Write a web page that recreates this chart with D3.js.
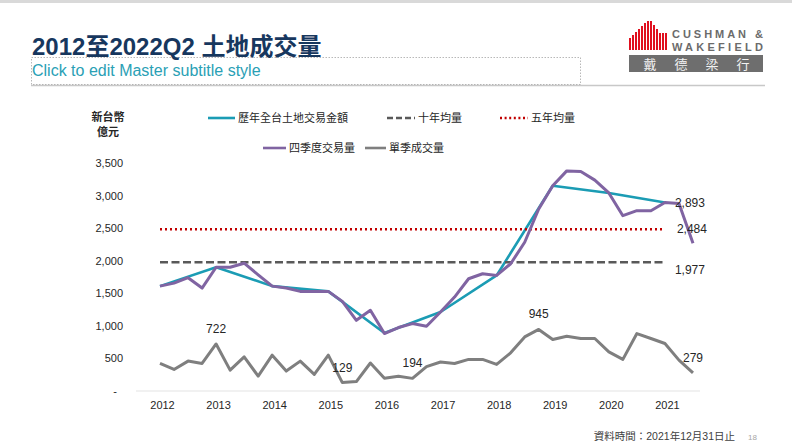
<!DOCTYPE html>
<html><head><meta charset="utf-8">
<script src="https://cdn.jsdelivr.net/npm/d3@7"></script>
<style>
body{margin:0;background:#fff;}
svg{display:block;font-family:"Liberation Sans",Arial,"Noto Sans CJK TC",sans-serif;}
</style></head><body>
<svg id="c" width="792" height="446"></svg>
<script>
// ---- data ----
const quarters = ["2012Q4","2013Q1","2013Q2","2013Q3","2013Q4","2014Q1","2014Q2","2014Q3","2014Q4",
 "2015Q1","2015Q2","2015Q3","2015Q4","2016Q1","2016Q2","2016Q3","2016Q4","2017Q1","2017Q2","2017Q3","2017Q4",
 "2018Q1","2018Q2","2018Q3","2018Q4","2019Q1","2019Q2","2019Q3","2019Q4","2020Q1","2020Q2","2020Q3","2020Q4",
 "2021Q1","2021Q2","2021Q3","2021Q4","2022Q1","2022Q2"];
const quarterly = [423,331,459,423,722,321,525,229,550,306,459,255,550,129,145,430,195,225,194,375,445,
 423,485,485,408,586,830,945,790,841,806,806,601,485,882,806,729,474,279];
const rolling4 = [1610,1656,1739,1580,1900,1900,1962,1784,1610,1580,1529,1529,1529,1376,1085,1239,882,974,1035,994,1213,
 1442,1723,1800,1774,1953,2283,2794,3150,3379,3369,3237,3040,2691,2768,2768,2893,2880,2268];
const years = ["2012","2013","2014","2015","2016","2017","2018","2019","2020","2021"];
const yearQuarters = ["2012Q4","2013Q4","2014Q4","2015Q4","2016Q4","2017Q4","2018Q4","2019Q4","2020Q4","2021Q4"];
const annual = [1610,1900,1610,1529,890,1213,1774,3150,3040,2893];
const tenYearAvg = 1977;
const fiveYearAvg = 2484;
const avgSpan = ["2012Q4","2021Q4"];
const yTicks = [0,500,1000,1500,2000,2500,3000,3500];
const labeledQuarters = ["2013Q4","2016Q1","2017Q2","2019Q3","2022Q2"];

// ---- chart ----
const svg = d3.select("#c");
const x = d3.scalePoint().domain(quarters).range([160,693]);
const y = d3.scaleLinear().domain([0,3500]).range([391,163]);

// header
svg.append("rect").attr("x",0).attr("y",0).attr("width",792).attr("height",3).attr("fill","#d9d9d9");
svg.append("line").attr("x1",31).attr("x2",765).attr("y1",85.5).attr("y2",85.5).attr("stroke","#c8c8c8").attr("stroke-width",1.5);
svg.append("rect").attr("x",31.5).attr("y",57.5).attr("width",549).attr("height",27)
  .attr("fill","none").attr("stroke","#a6a6a6").attr("stroke-width",0.8).attr("stroke-dasharray","1.5,1.5");
svg.append("text").attr("x",32).attr("y",55).attr("font-size",24).attr("font-weight","bold")
  .attr("fill","#17375e").text("2012至2022Q2 土地成交量");
svg.append("text").attr("x",32).attr("y",76).attr("font-size",16).attr("fill","#2aa0b5")
  .text("Click to edit Master subtitle style");

// logo
const logo = svg.append("g");
const bars = [[629,38],[632,35],[635,32],[638,29],[641,26],[644,23],[647,21],[650,21],[653,25],[656,29],[659,33],[662,33],[665,33]];
bars.forEach(b=>logo.append("rect").attr("x",b[0]).attr("y",b[1]).attr("width",2).attr("height",50-b[1]).attr("fill","#e0101f"));
logo.append("text").attr("x",672).attr("y",38).attr("font-size",11).attr("font-weight","bold").attr("fill","#6b6b6b")
  .attr("textLength",91).attr("lengthAdjust","spacing").text("CUSHMAN &");
logo.append("text").attr("x",672).attr("y",51).attr("font-size",11).attr("font-weight","bold").attr("fill","#6b6b6b")
  .attr("textLength",91).attr("lengthAdjust","spacing").text("WAKEFIELD");
logo.append("rect").attr("x",629).attr("y",55).attr("width",134).attr("height",17).attr("fill","#6e6e6e");
["戴","德","梁","行"].forEach((c,i)=>logo.append("text").attr("x",650+i*31).attr("y",68.5).attr("text-anchor","middle")
  .attr("font-size",13).attr("fill","#f2f2f2").attr("font-family","'Noto Sans CJK TC'").text(c));

// y axis title
svg.append("text").attr("x",108).attr("y",121).attr("text-anchor","middle").attr("font-size",11).attr("font-weight","bold")
  .attr("fill","#262626").text("新台幣");
svg.append("text").attr("x",108).attr("y",136).attr("text-anchor","middle").attr("font-size",11).attr("font-weight","bold")
  .attr("fill","#262626").text("億元");

// axes
const ya = svg.append("g").attr("transform","translate(123,0)")
  .call(d3.axisLeft(y).tickValues(yTicks).tickSize(0).tickPadding(0).tickFormat(d=>d===0?"-":d3.format(",")(d)));
ya.select(".domain").remove();
ya.selectAll("text").attr("font-size",11).attr("fill","#262626").attr("font-family","'Liberation Sans',Arial")
  .attr("dx",d=>d===0?-6:0);

svg.append("line").attr("x1",136).attr("x2",700).attr("y1",y(0)).attr("y2",y(0)).attr("stroke","#e3e3e3").attr("stroke-width",1);
const xa = svg.append("g").attr("transform",`translate(2,${y(0)})`)
  .call(d3.axisBottom(x).tickValues(yearQuarters).tickSize(0).tickPadding(10).tickFormat((d,i)=>years[i]));
xa.select(".domain").remove();
xa.selectAll("text").attr("font-size",11).attr("fill","#262626").attr("font-family","'Liberation Sans',Arial");

// series
const line = d3.line();
svg.append("path").attr("d",line(yearQuarters.map((q,i)=>[x(q),y(annual[i])])))
  .attr("fill","none").attr("stroke","#1b9cb4").attr("stroke-width",2.6).attr("stroke-linejoin","round");
svg.append("path").attr("d",line(avgSpan.map(q=>[x(q),y(tenYearAvg)])))
  .attr("fill","none").attr("stroke","#595959").attr("stroke-width",2.6).attr("stroke-dasharray","8,3.5");
svg.append("path").attr("d",line(avgSpan.map(q=>[x(q),y(fiveYearAvg)])))
  .attr("fill","none").attr("stroke","#c00000").attr("stroke-width",2.4).attr("stroke-dasharray","2,3");
svg.append("path").attr("d",line(quarters.map((q,i)=>[x(q),y(rolling4[i])])))
  .attr("fill","none").attr("stroke","#8064a2").attr("stroke-width",3).attr("stroke-linejoin","round");
svg.append("path").attr("d",line(quarters.map((q,i)=>[x(q),y(quarterly[i])])))
  .attr("fill","none").attr("stroke","#7f7f7f").attr("stroke-width",3).attr("stroke-linejoin","round");

// data labels
labeledQuarters.forEach(q=>{
  const i = quarters.indexOf(q);
  svg.append("text").attr("x",x(q)).attr("y",y(quarterly[i])-11).attr("text-anchor","middle")
    .attr("font-size",12).attr("fill","#262626").text(d3.format(",")(quarterly[i]));
});
const endQ = avgSpan[1];
svg.append("text").attr("x",x(endQ)+10).attr("y",y(annual[annual.length-1])+4).attr("font-size",12).attr("fill","#262626")
  .text(d3.format(",")(annual[annual.length-1]));
svg.append("text").attr("x",x(endQ)+12).attr("y",y(fiveYearAvg)+4).attr("font-size",12).attr("fill","#262626")
  .text(d3.format(",")(fiveYearAvg));
svg.append("text").attr("x",x(endQ)+10).attr("y",y(tenYearAvg)+12).attr("font-size",12).attr("fill","#262626")
  .text(d3.format(",")(tenYearAvg));

// legend
const legend = [
  {t:"歷年全台土地交易金額", c:"#1b9cb4", d:null, x:208, y:118, w:27},
  {t:"十年均量", c:"#595959", d:"6,3", x:387, y:118, w:28},
  {t:"五年均量", c:"#c00000", d:"2,2.6", x:500, y:118, w:28},
  {t:"四季度交易量", c:"#8064a2", d:null, x:263, y:148, w:23},
  {t:"單季成交量", c:"#7f7f7f", d:null, x:365, y:148, w:21}
];
legend.forEach(l=>{
  svg.append("line").attr("x1",l.x).attr("x2",l.x+l.w).attr("y1",l.y).attr("y2",l.y)
    .attr("stroke",l.c).attr("stroke-width",l.d&&l.d.startsWith("2")?2.4:2.6).attr("stroke-dasharray",l.d);
  svg.append("text").attr("x",l.x+l.w+3).attr("y",l.y+4).attr("font-size",11).attr("fill","#262626")
    .attr("font-family","'Noto Sans CJK TC'").text(l.t);
});

// footer
svg.append("text").attr("x",735).attr("y",440).attr("text-anchor","end").attr("font-size",10.5).attr("fill","#404040")
  .text("資料時間：2021年12月31日止");
svg.append("text").attr("x",748).attr("y",440).attr("font-size",8).attr("fill","#a6a6a6").text("18");
</script></body></html>
